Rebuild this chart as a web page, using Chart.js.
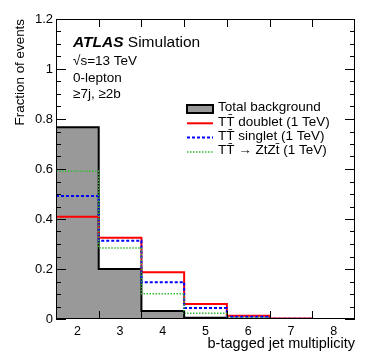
<!DOCTYPE html>
<html>
<head>
<meta charset="utf-8">
<script src="https://cdn.jsdelivr.net/npm/chart.js@4/dist/chart.umd.min.js"></script>
<style>
  html, body { margin: 0; padding: 0; background: #fff; }
</style>
</head>
<body>
<canvas id="chart" width="374" height="363"></canvas>
<script>
// b-tagged jet multiplicity bins and the fraction of events in each
const binCenters = [2, 3, 4, 5, 6, 7, 8];
const totalBackground = [0.767, 0.200, 0.032, 0.005, 0.001, 0.000, 0.000];
const ttDoublet = [0.409, 0.325, 0.187, 0.060, 0.013, 0.002, 0.000];
const ttSinglet = [0.492, 0.313, 0.147, 0.044, 0.009, 0.001, 0.000];
const ttZtZt = [0.591, 0.284, 0.101, 0.023, 0.004, 0.000, 0.000];
const yTickLabels = [0, 0.2, 0.4, 0.6, 0.8, 1, 1.2];
const seriesLabels = [
    'Total background',
    'TT\u0304 doublet (1 TeV)',
    'TT\u0304 singlet (1 TeV)',
    'TT\u0304 \u2192 ZtZt\u0304 (1 TeV)'
];

const FONT = "'Liberation Sans', Arial, Helvetica, sans-serif";

// turn per-bin values into points at the bin edges for a stepped line
function toSteps(values) {
    const pts = values.map((v, i) => ({ x: binCenters[i] - 0.5, y: v }));
    pts.push({ x: binCenters[binCenters.length - 1] + 0.5, y: values[values.length - 1] });
    return pts;
}

const frameAndLabels = {
    id: 'frameAndLabels',
    afterDatasetsDraw(chart) {
        const { ctx, chartArea: a, scales: { x, y } } = chart;
        ctx.save();
        ctx.strokeStyle = '#000';
        ctx.lineWidth = 1;
        ctx.strokeRect(a.left + 0.5, a.top + 0.5, a.right - a.left - 1, a.bottom - a.top - 1);

        // x ticks at bin edges, top and bottom, pointing inward
        ctx.beginPath();
        for (let i = 1; i < binCenters.length; i++) {
            const px = Math.round(x.getPixelForValue(binCenters[i] - 0.5)) + 0.5;
            ctx.moveTo(px, a.bottom); ctx.lineTo(px, a.bottom - 8);
            ctx.moveTo(px, a.top); ctx.lineTo(px, a.top + 8);
        }
        // y major and minor ticks on both sides
        for (let k = 0; k <= 24; k++) {
            const v = k * 0.05;
            const py = Math.round(y.getPixelForValue(v)) + 0.5;
            const len = k % 4 === 0 ? 10 : 5;
            ctx.moveTo(a.left, py); ctx.lineTo(a.left + len, py);
            ctx.moveTo(a.right, py); ctx.lineTo(a.right - len, py);
        }
        ctx.stroke();

        // ATLAS label block
        ctx.fillStyle = '#000';
        ctx.textBaseline = 'alphabetic';
        ctx.font = 'italic bold 15.5px ' + FONT;
        const lx = a.left + 17;
        ctx.fillText('ATLAS', lx, a.top + 28);
        const w = ctx.measureText('ATLAS').width;
        ctx.font = '15.5px ' + FONT;
        ctx.fillText(' Simulation', lx + w, a.top + 28);
        ctx.font = '13.5px ' + FONT;
        ctx.fillText('\u221As=13 TeV', lx, a.top + 46);
        ctx.fillText('0-lepton', lx, a.top + 62.5);
        ctx.fillText('\u22657j, \u22652b', lx, a.top + 79);

        // legend
        const ds = chart.data.datasets;
        const bx = a.left + 131, bw = 26, tx = a.left + 162;
        ctx.textBaseline = 'middle';
        ctx.font = '13.5px ' + FONT;
        ds.forEach((d, i) => {
            const cy = a.top + 90 + i * 14.3;
            if (i === 0) {
                ctx.fillStyle = d.backgroundColor;
                ctx.fillRect(bx, cy - 4, bw, 8);
                ctx.strokeStyle = d.borderColor;
                ctx.lineWidth = 2;
                ctx.setLineDash([]);
                ctx.strokeRect(bx, cy - 4, bw, 8);
            } else {
                ctx.strokeStyle = d.borderColor;
                ctx.lineWidth = d.borderWidth;
                ctx.setLineDash(d.borderDash || []);
                ctx.beginPath();
                ctx.moveTo(bx, cy); ctx.lineTo(bx + bw, cy);
                ctx.stroke();
            }
            ctx.setLineDash([]);
            ctx.fillStyle = '#000';
            ctx.fillText(d.label, tx, cy - 1.5);
        });
        ctx.restore();
    }
};

new Chart(document.getElementById('chart'), {
    type: 'line',
    data: {
        datasets: [
            {
                label: seriesLabels[0],
                data: toSteps(totalBackground),
                stepped: 'before',
                fill: 'origin',
                backgroundColor: '#999999',
                borderColor: '#000000',
                borderWidth: 2,
                order: 4
            },
            {
                label: seriesLabels[1],
                data: toSteps(ttDoublet),
                stepped: 'before',
                fill: false,
                borderColor: '#ff0000',
                borderWidth: 2,
                order: 3
            },
            {
                label: seriesLabels[2],
                data: toSteps(ttSinglet),
                stepped: 'before',
                fill: false,
                borderColor: '#0000ff',
                borderWidth: 2,
                borderDash: [3, 2],
                order: 2
            },
            {
                label: seriesLabels[3],
                data: toSteps(ttZtZt),
                stepped: 'before',
                fill: false,
                borderColor: '#33bb33',
                borderWidth: 1.5,
                borderDash: [1.5, 1.5],
                order: 1
            }
        ]
    },
    options: {
        responsive: false,
        animation: false,
        devicePixelRatio: 1,
        layout: { padding: { top: 19, right: 19, left: 0, bottom: 0 } },
        elements: { point: { radius: 0 }, line: { tension: 0 } },
        plugins: { legend: { display: false }, tooltip: { enabled: false } },
        scales: {
            x: {
                type: 'linear',
                min: 1.5,
                max: 8.5,
                grid: { display: false, drawTicks: false },
                border: { display: false },
                afterBuildTicks: s => { s.ticks = binCenters.map(v => ({ value: v })); },
                afterFit: s => { s.height = 44; },
                ticks: {
                    padding: 5,
                    color: '#000',
                    font: { family: FONT, size: 12.5 },
                    callback: v => String(v)
                },
                title: {
                    display: true,
                    text: 'b-tagged jet multiplicity',
                    align: 'end',
                    color: '#000',
                    font: { family: FONT, size: 14.5 },
                    padding: { top: 0, bottom: 10 }
                }
            },
            y: {
                min: 0,
                max: 1.2,
                grid: { display: false, drawTicks: false },
                border: { display: false },
                afterBuildTicks: s => { s.ticks = yTickLabels.map(v => ({ value: v })); },
                afterFit: s => { s.width = 56; },
                ticks: {
                    padding: 3,
                    color: '#000',
                    font: { family: FONT, size: 13 },
                    callback: v => String(+v.toFixed(2))
                },
                title: {
                    display: true,
                    text: 'Fraction of events',
                    align: 'end',
                    color: '#000',
                    font: { family: FONT, size: 13.4 },
                    padding: { top: 12.5, bottom: 0 }
                }
            }
        }
    },
    plugins: [frameAndLabels]
});
</script>
</body>
</html>
